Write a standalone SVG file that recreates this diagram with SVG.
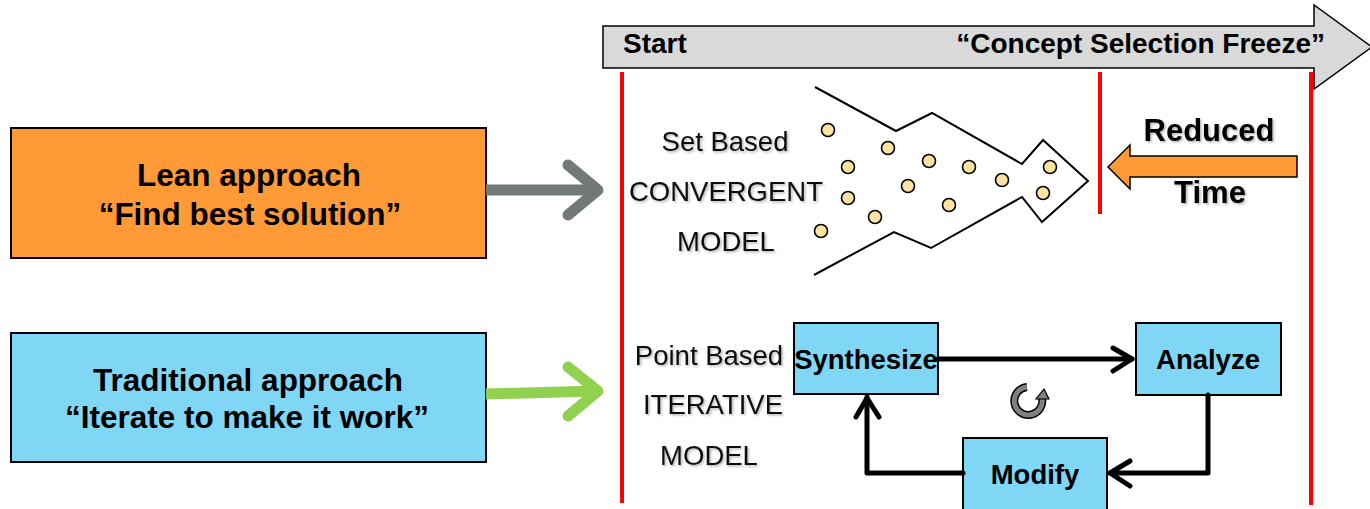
<svg xmlns="http://www.w3.org/2000/svg" width="1370" height="509" viewBox="0 0 1370 509">
<style>
.b{font-family:"Liberation Sans",Arial,sans-serif;font-weight:bold;fill:#000}
.r{font-family:"Liberation Sans",Arial,sans-serif;fill:#111}
.red{stroke:#FF0000;stroke-width:4;fill:none}
.box{fill:#7FD6F5;stroke:#000;stroke-width:2}
.conn{stroke:#000;stroke-width:5;fill:none;stroke-linecap:round;stroke-linejoin:round}
.dot{fill:#FFE3A0;stroke:#000;stroke-width:1.6}
</style>
<defs>
<filter id="sh" x="-10%" y="-20%" width="130%" height="150%">
<feDropShadow dx="1.5" dy="1.5" stdDeviation="1" flood-color="#000" flood-opacity="0.3"/>
</filter>
</defs>
<rect width="1370" height="509" fill="#fff"/>

<g id="timeline">
<polygon points="603,26 1314,26 1314,5 1372,47 1314,89 1314,68 603,68" fill="#D9D9D9" stroke="#000" stroke-width="1.5"/>
<text class="b" x="623" y="53" font-size="28">Start</text>
<text class="b" x="1325" y="53" font-size="28" text-anchor="end">“Concept Selection Freeze”</text>
</g>

<g id="red-lines">
<line class="red" x1="622" y1="72" x2="622" y2="503"/>
<line class="red" x1="1100" y1="72" x2="1100" y2="214"/>
<line class="red" x1="1311" y1="72" x2="1311" y2="505"/>
</g>

<g id="lean">
<rect x="11" y="128" width="475" height="130" fill="#FF9A36" stroke="#000" stroke-width="2"/>
<text class="b" x="249" y="186" font-size="31.5" text-anchor="middle">Lean approach</text>
<text class="b" x="250" y="225" font-size="31.5" text-anchor="middle">“Find best solution”</text>
</g>

<g id="traditional">
<rect x="11" y="333" width="475" height="129" fill="#7FD6F5" stroke="#000" stroke-width="2"/>
<text class="b" x="248" y="391" font-size="31.5" text-anchor="middle">Traditional approach</text>
<text class="b" x="247" y="428" font-size="31.5" text-anchor="middle">“Iterate to make it work”</text>
</g>

<g id="convergent">
<g filter="url(#sh)">
<text class="r" x="725" y="151" font-size="27.5" text-anchor="middle">Set Based</text>
<text class="r" x="726" y="201" font-size="27.5" text-anchor="middle">CONVERGENT</text>
<text class="r" x="726" y="251" font-size="27.5" text-anchor="middle">MODEL</text>
</g>
<polyline points="815,87 896,131 932,113 1022,164 1043,140 1088,181 1042,222 1022,197 931,248 894,232 814,275" fill="none" stroke="#000" stroke-width="2"/>
<circle class="dot" cx="828" cy="130" r="6.5"/>
<circle class="dot" cx="888" cy="148" r="6.5"/>
<circle class="dot" cx="848" cy="167" r="6.5"/>
<circle class="dot" cx="929" cy="161" r="6.5"/>
<circle class="dot" cx="969" cy="167" r="6.5"/>
<circle class="dot" cx="1050" cy="167" r="6.5"/>
<circle class="dot" cx="1002" cy="180" r="6.5"/>
<circle class="dot" cx="908" cy="186" r="6.5"/>
<circle class="dot" cx="848" cy="198" r="6.5"/>
<circle class="dot" cx="1043" cy="193" r="6.5"/>
<circle class="dot" cx="949" cy="205" r="6.5"/>
<circle class="dot" cx="875" cy="217" r="6.5"/>
<circle class="dot" cx="821" cy="231" r="6.5"/>
</g>

<g id="reduced-time">
<polygon points="1108,167 1130,145 1130,156 1297,156 1297,177 1130,177 1130,189" fill="#FF9A36" stroke="#000" stroke-width="1.5"/>
<g filter="url(#sh)">
<text class="b" x="1209" y="141" font-size="31" text-anchor="middle">Reduced</text>
<text class="b" x="1210" y="203" font-size="31" text-anchor="middle">Time</text>
</g>
</g>

<g id="iterative-label" filter="url(#sh)">
<text class="r" x="709" y="365" font-size="27.5" text-anchor="middle">Point Based</text>
<text class="r" x="713" y="414" font-size="27.5" text-anchor="middle">ITERATIVE</text>
<text class="r" x="709" y="465" font-size="27.5" text-anchor="middle">MODEL</text>
</g>

<g id="synthesize">
<rect class="box" x="794" y="323" width="144" height="71"/>
<text class="b" x="866" y="369" font-size="27.5" text-anchor="middle">Synthesize</text>
</g>
<g id="analyze">
<rect class="box" x="1136" y="323" width="145" height="72"/>
<text class="b" x="1208" y="369" font-size="27.5" text-anchor="middle">Analyze</text>
</g>
<g id="modify">
<rect class="box" x="963" y="438" width="144" height="74"/>
<text class="b" x="1035" y="484" font-size="27.5" text-anchor="middle">Modify</text>
</g>

<g id="cycle-icon">
<path d="M1027,387 A14,14 0 1 0 1042,398" fill="none" stroke="#000" stroke-width="8"/>
<path d="M1027,387 A14,14 0 1 0 1042,398" fill="none" stroke="#808080" stroke-width="5"/>
<polygon points="1036,399 1049,399 1044,389" fill="#808080" stroke="#000" stroke-width="1.2"/>
</g>

<g id="connectors">
<line x1="486" y1="190" x2="596" y2="190" stroke="#737878" stroke-width="11"/>
<polyline points="568,165 598,190 568,215" fill="none" stroke="#737878" stroke-width="11" stroke-linecap="round" stroke-linejoin="round"/>
<line x1="486" y1="394" x2="596" y2="391" stroke="#92D050" stroke-width="11"/>
<polyline points="568,367 598,391 568,416" fill="none" stroke="#92D050" stroke-width="11" stroke-linecap="round" stroke-linejoin="round"/>
<line class="conn" x1="938" y1="359" x2="1132" y2="359"/>
<polyline class="conn" points="1113,348 1132,359 1113,371"/>
<polyline class="conn" points="1208,395 1208,473 1110,473"/>
<polyline class="conn" points="1130,461 1110,473 1130,486"/>
<polyline class="conn" points="963,473 867,473 867,397"/>
<polyline class="conn" points="856,417 867,398 879,417"/>
</g>
</svg>
